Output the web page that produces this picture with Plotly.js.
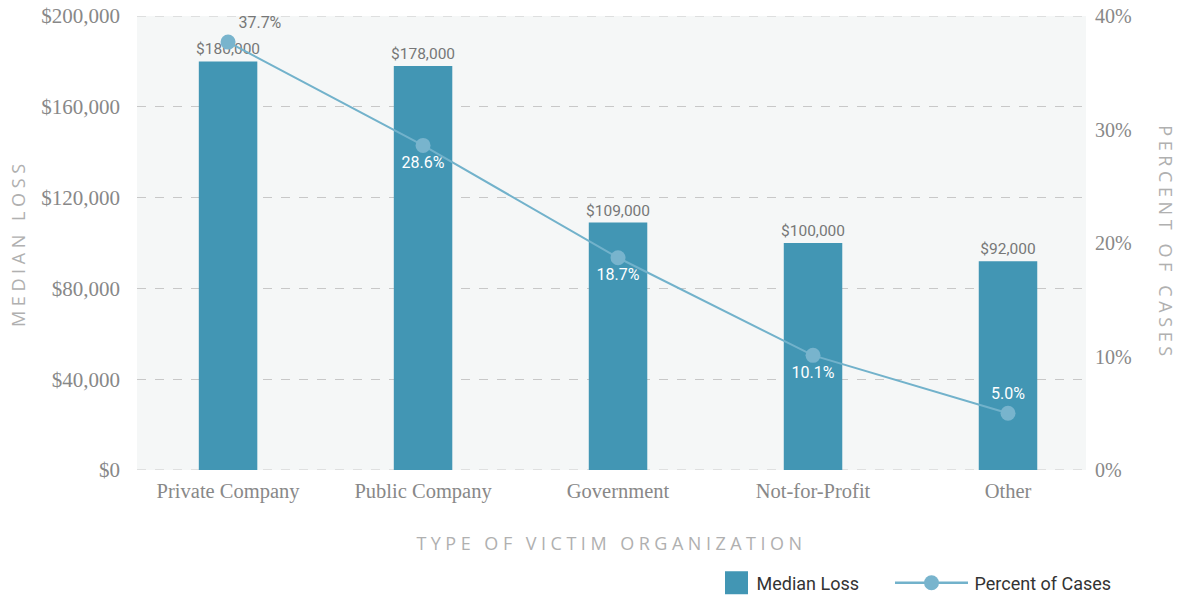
<!DOCTYPE html>
<html>
<head>
<meta charset="utf-8">
<script src="https://cdn.plot.ly/plotly-3.0.1.min.js"></script>
<style>
html,body{margin:0;padding:0;background:#fff;}
#chart{width:1179px;height:595px;}
.xtitle, .ytitle { letter-spacing: 4.5px; }
.annotation-text { letter-spacing: 4.6px; }
</style>
</head>
<body>
<div id="chart"></div>
<script>
const categories = ['Private Company','Public Company','Government','Not-for-Profit','Other'];
const medianLoss = [180000,178000,109000,100000,92000];
const percentCases = [37.7,28.6,18.7,10.1,5.0];
const pctLabelPos = ['top right','bottom center','bottom center','bottom center','top center'];
const pctLabelColor = ['#777777','#ffffff','#ffffff','#ffffff','#ffffff'];
const lossAxisMax = 200000;
const pctAxisMax = 40;

const barTrace = {
  type:'bar', name:'Median Loss', x:categories, y:medianLoss,
  marker:{color:'#4296b4'}, width:0.3,
  texttemplate:'$%{y:,}', textposition:'outside', cliponaxis:false, constraintext:'none',
  textfont:{family:'Roboto, sans-serif', size:15.5, color:'#777777'},
  hoverinfo:'skip'
};
const lineTrace = {
  type:'scatter', mode:'lines+markers+text', name:'Percent of Cases',
  x:categories, y:percentCases, yaxis:'y2',
  line:{color:'#72b2cb', width:2},
  marker:{color:'#78b4cd', size:15},
  texttemplate:'%{y:.1f}%', textposition:pctLabelPos, cliponaxis:false,
  textfont:{family:'Roboto, sans-serif', size:16, color:pctLabelColor},
  hoverinfo:'skip'
};

const edgeLine = {color:'#c8c8c8', width:1, dash:'dash'};
const titleFont = {family:'Open Sans, sans-serif', size:18, color:'#b0b0b0'};
const layout = {
  width:1179, height:595,
  margin:{l:137, r:93, t:16, b:125, autoexpand:false},
  paper_bgcolor:'#ffffff', plot_bgcolor:'#f5f7f7',
  showlegend:true,
  legend:{orientation:'h', x:0.98, xanchor:'right', y:-0.249, yanchor:'middle',
    font:{family:'Roboto, sans-serif', size:18, color:'#333333'}, traceorder:'normal'},
  xaxis:{
    type:'category', range:[-0.467, 4.4],
    showgrid:false, zeroline:false, showline:false, ticks:'',
    ticklabelstandoff:6,
    tickfont:{family:'Liberation Serif, serif', size:20.5, color:'#888888'},
    title:{text:'TYPE OF VICTIM ORGANIZATION', standoff:35, font:titleFont}
  },
  yaxis:{
    range:[0,lossAxisMax], dtick:40000, tickprefix:'$', tickformat:',',
    showgrid:true, gridcolor:'#c8c8c8', griddash:'dash', gridwidth:1,
    zeroline:false, showline:false, ticks:'', ticklabelstandoff:16,
    tickfont:{family:'Liberation Serif, serif', size:21, color:'#888888'}
  },
  yaxis2:{
    overlaying:'y', side:'right', range:[0,pctAxisMax], dtick:10, ticksuffix:'%',
    showgrid:false, zeroline:false, showline:false, ticks:'', ticklabelstandoff:8,
    tickfont:{family:'Liberation Serif, serif', size:20, color:'#888888'}
  },
  shapes:[
    {type:'line', xref:'paper', yref:'y', x0:0, x1:1, y0:0, y1:0, line:edgeLine, layer:'below'},
    {type:'line', xref:'paper', yref:'y', x0:0, x1:1, y0:lossAxisMax, y1:lossAxisMax, line:edgeLine, layer:'below'}
  ],
  annotations:[
    {text:'MEDIAN LOSS', xref:'paper', yref:'paper', x:-0.1254, y:0.5,
     xanchor:'center', yanchor:'middle', textangle:-90, showarrow:false, font:titleFont},
    {text:'PERCENT OF CASES', xref:'paper', yref:'paper', x:1.084, y:0.5,
     xanchor:'center', yanchor:'middle', textangle:90, showarrow:false, font:titleFont}
  ]
};

Plotly.newPlot('chart', [barTrace, lineTrace], layout, {displayModeBar:false, staticPlot:true}).then(gd => {
  try {
    const leg = gd.querySelector('g.legend');
    leg.querySelectorAll('[clip-path]').forEach(e => e.removeAttribute('clip-path'));
    const items = leg.querySelectorAll('g.traces');
    const barItem = items[0], lineItem = items[1];
    const sw = barItem.querySelector('g.legendpoints path');
    sw.setAttribute('d', 'M11.5,11.5H-11.5V-11.5H11.5Z');
    const lp = lineItem.querySelector('g.legendlines path');
    const bb = lp.getBBox();
    const cx = bb.x + bb.width / 2;
    lp.setAttribute('d', 'M' + (cx - 36.5) + ',0h73');
    lp.style.strokeWidth = '2.5px';
    const lt = lineItem.querySelector('text.legendtext');
    lt.setAttribute('x', parseFloat(lt.getAttribute('x')) + 23);
    const gdR = gd.getBoundingClientRect();
    function shift(item, el, target) {
      const r = el.getBoundingClientRect();
      const dx = target - (r.left - gdR.left);
      const m = /translate\(\s*([-\d.e]+)[\s,]+([-\d.e]+)\s*\)/.exec(item.getAttribute('transform') || 'translate(0,0)');
      item.setAttribute('transform', 'translate(' + (parseFloat(m[1]) + dx) + ',' + m[2] + ')');
    }
    shift(barItem, sw, 725);
    shift(lineItem, lp, 895);
  } catch (e) { console.error(e); }
});
</script>
</body>
</html>
